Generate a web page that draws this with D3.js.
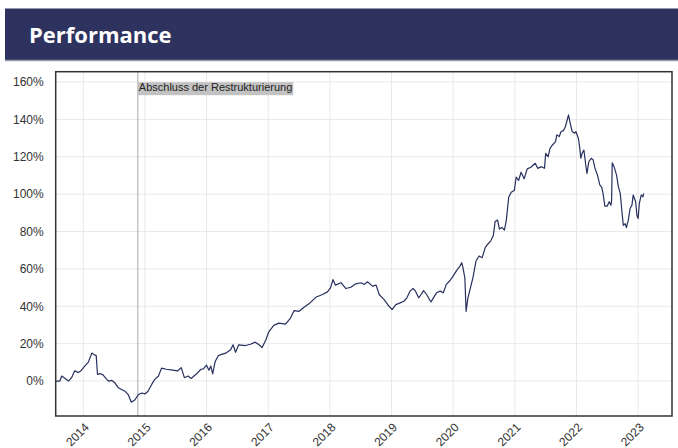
<!DOCTYPE html>
<html>
<head>
<meta charset="utf-8">
<script src="https://cdnjs.cloudflare.com/ajax/libs/d3/7.8.5/d3.min.js"></script>
<style>
  body { margin: 0; background: #fff; }
  svg { display: block; }
</style>
</head>
<body>
<div id="chart"></div>
<script>
// performance in %, [decimal year, value]
var perf2013 = [
  [2013.55, 0.0], [2013.62, 0.0], [2013.65, 2.7], [2013.70, 1.5], [2013.76, 0.0],
  [2013.81, 1.8], [2013.86, 5.5], [2013.92, 4.5], [2013.97, 5.8]
];
var perf2014 = [
  [2014.03, 8.2], [2014.08, 10.0], [2014.14, 15.0], [2014.18, 14.0], [2014.21, 13.6],
  [2014.23, 3.6], [2014.27, 4.0], [2014.32, 3.3], [2014.38, 0.9], [2014.41, 0.0],
  [2014.46, 0.4], [2014.51, -0.9], [2014.57, -3.6], [2014.62, -4.5], [2014.68, -5.5],
  [2014.73, -7.3], [2014.78, -11.3], [2014.84, -10.0], [2014.89, -7.3], [2014.95, -6.4]
];
var perf2015 = [
  [2015.00, -6.9], [2015.05, -5.5], [2015.11, -1.8], [2015.16, 0.9], [2015.22, 2.7],
  [2015.27, 6.9], [2015.35, 6.3], [2015.45, 5.8], [2015.53, 5.4], [2015.59, 7.2],
  [2015.64, 1.8], [2015.70, 2.7], [2015.75, 1.4], [2015.83, 3.6], [2015.91, 6.3],
  [2015.95, 6.5]
];
var perf2016 = [
  [2016.00, 8.5], [2016.04, 5.8], [2016.07, 8.0], [2016.10, 3.8], [2016.14, 10.5],
  [2016.19, 13.5], [2016.22, 14.0], [2016.31, 14.9], [2016.39, 16.7], [2016.43, 19.4],
  [2016.47, 15.4], [2016.52, 19.4], [2016.63, 19.0], [2016.71, 19.7], [2016.79, 20.8],
  [2016.85, 19.4], [2016.90, 17.9], [2016.96, 22.0]
];
var perf2017 = [
  [2017.01, 26.5], [2017.09, 29.8], [2017.17, 31.0], [2017.28, 30.5], [2017.36, 33.7],
  [2017.42, 37.7], [2017.50, 37.3], [2017.58, 39.5], [2017.66, 41.3], [2017.77, 44.8],
  [2017.88, 46.3], [2017.96, 47.7]
];
var perf2018 = [
  [2018.01, 49.9], [2018.05, 54.3], [2018.09, 51.3], [2018.18, 52.6], [2018.26, 49.5],
  [2018.34, 50.2], [2018.42, 52.0], [2018.50, 52.6], [2018.56, 51.7], [2018.61, 53.1],
  [2018.69, 50.8], [2018.75, 51.3], [2018.80, 46.3], [2018.88, 43.6], [2018.96, 40.0]
];
var perf2019 = [
  [2019.01, 38.2], [2019.07, 40.9], [2019.14, 41.8], [2019.20, 42.7], [2019.25, 44.5],
  [2019.30, 48.1], [2019.35, 49.5], [2019.39, 48.1], [2019.44, 44.5], [2019.48, 46.3],
  [2019.52, 48.4], [2019.57, 46.3], [2019.64, 42.3], [2019.68, 44.5], [2019.73, 47.2],
  [2019.79, 48.1], [2019.84, 47.2], [2019.89, 51.7], [2019.95, 53.8]
];
var perf2020 = [
  [2020.00, 56.1], [2020.05, 58.8], [2020.11, 61.5], [2020.14, 63.3], [2020.16, 60.6],
  [2020.19, 55.2], [2020.21, 37.3], [2020.24, 44.5], [2020.28, 49.9], [2020.32, 55.2],
  [2020.37, 64.2], [2020.42, 66.9], [2020.47, 66.0], [2020.52, 71.4], [2020.56, 73.2],
  [2020.61, 75.0], [2020.65, 77.7], [2020.68, 85.4], [2020.72, 86.1], [2020.75, 81.3],
  [2020.79, 82.2], [2020.83, 80.7], [2020.86, 85.7], [2020.90, 98.3], [2020.94, 101.0],
  [2020.99, 101.9]
];
var perf2021 = [
  [2021.02, 109.1], [2021.06, 107.3], [2021.10, 111.7], [2021.15, 108.2], [2021.20, 113.5],
  [2021.26, 114.4], [2021.33, 116.5], [2021.37, 113.8], [2021.43, 114.7], [2021.48, 113.8],
  [2021.50, 121.8], [2021.54, 120.0], [2021.57, 124.5], [2021.61, 126.3], [2021.66, 128.1],
  [2021.68, 131.7], [2021.72, 130.8], [2021.75, 133.5], [2021.79, 134.0], [2021.82, 136.2],
  [2021.85, 139.8], [2021.87, 142.4], [2021.90, 137.6], [2021.93, 133.5], [2021.97, 132.6],
  [2021.99, 133.5]
];
var perf2022 = [
  [2022.03, 129.9], [2022.05, 125.4], [2022.07, 119.2], [2022.09, 121.8], [2022.12, 123.6],
  [2022.15, 115.6], [2022.17, 111.1], [2022.20, 117.4], [2022.24, 119.2], [2022.27, 118.3],
  [2022.30, 113.8], [2022.34, 110.2], [2022.38, 104.8], [2022.41, 103.6], [2022.43, 100.4],
  [2022.46, 93.6], [2022.50, 93.6], [2022.53, 95.9], [2022.56, 94.1], [2022.57, 96.8],
  [2022.58, 116.8], [2022.61, 114.7], [2022.65, 110.2], [2022.68, 103.9], [2022.71, 100.4],
  [2022.74, 89.6], [2022.76, 83.3], [2022.79, 84.2], [2022.81, 82.1], [2022.84, 86.0],
  [2022.87, 92.3], [2022.90, 94.1], [2022.92, 99.5], [2022.96, 95.9], [2022.98, 88.7]
];
var perf2023 = [
  [2023.00, 86.9], [2023.02, 95.0], [2023.05, 99.5], [2023.08, 98.6], [2023.09, 100.4]
];

var yTicks = [0, 20, 40, 60, 80, 100, 120, 140, 160];
var xYears = [2014, 2015, 2016, 2017, 2018, 2019, 2020, 2021, 2022, 2023];
var annotation = { year: 2014.885, label: 'Abschluss der Restrukturierung' };
var title = 'Performance';

var W = 678, H = 448;
var margin = { top: 71.7, right: 6, bottom: 32, left: 55.7 };
var width = W - margin.left - margin.right;
var height = H - margin.top - margin.bottom;

function yearToDate(y) {
  var yr = Math.floor(y);
  var start = new Date(yr, 0, 1), end = new Date(yr + 1, 0, 1);
  return new Date(+start + (y - yr) * (end - start));
}

var data = [].concat(perf2013, perf2014, perf2015, perf2016, perf2017, perf2018,
  perf2019, perf2020, perf2021, perf2022, perf2023).map(function(d) {
  return { date: yearToDate(d[0]), value: d[1] };
});

var svg = d3.select('#chart').append('svg')
  .attr('width', W)
  .attr('height', H);

// header band
svg.append('rect')
  .attr('x', 5).attr('y', 8.5)
  .attr('width', W - 5).attr('height', 52)
  .attr('fill', '#2e325e');
svg.append('line')
  .attr('x1', 5).attr('x2', W)
  .attr('y1', 60.5).attr('y2', 60.5)
  .attr('stroke', '#9a9cae').attr('stroke-width', 1.5);
svg.append('text')
  .attr('x', 29).attr('y', 43)
  .attr('fill', '#fff')
  .style('font-family', '"Open Sans", sans-serif')
  .style('font-weight', 700)
  .style('font-size', '22px')
  .text(title);

var g = svg.append('g')
  .attr('transform', 'translate(' + margin.left + ',' + margin.top + ')');

var x = d3.scaleTime()
  .domain([yearToDate(2013.552), yearToDate(2023.55)])
  .range([0, width]);
var y = d3.scaleLinear()
  .domain([-18.7, 165.5])
  .range([height, 0]);

// grid
g.append('g')
  .selectAll('line.v')
  .data(xYears)
  .enter().append('line')
  .attr('x1', function(d) { return x(new Date(d, 0, 1)); })
  .attr('x2', function(d) { return x(new Date(d, 0, 1)); })
  .attr('y1', 0).attr('y2', height)
  .attr('stroke', '#e8e8e8').attr('stroke-width', 1);
g.append('g')
  .selectAll('line.h')
  .data(yTicks)
  .enter().append('line')
  .attr('x1', 0).attr('x2', width)
  .attr('y1', function(d) { return y(d); })
  .attr('y2', function(d) { return y(d); })
  .attr('stroke', '#e8e8e8').attr('stroke-width', 1);

// y axis labels
var yAxis = d3.axisLeft(y).tickValues(yTicks).tickSize(0).tickPadding(12)
  .tickFormat(function(d) { return d + '%'; });
var yG = g.append('g').call(yAxis);
yG.select('.domain').remove();
yG.selectAll('text')
  .style('font-family', '"Liberation Sans", Arial, sans-serif')
  .style('font-size', '12px')
  .attr('fill', '#333');

// x axis labels
var xAxis = d3.axisBottom(x)
  .tickValues(xYears.map(function(d) { return new Date(d, 0, 1); }))
  .tickSize(0)
  .tickFormat(d3.timeFormat('%Y'));
var xG = g.append('g')
  .attr('transform', 'translate(0,' + height + ')')
  .call(xAxis);
xG.select('.domain').remove();
xG.selectAll('text')
  .style('font-family', '"Liberation Sans", Arial, sans-serif')
  .style('font-size', '12px')
  .attr('fill', '#333')
  .attr('text-anchor', 'end')
  .attr('dy', null)
  .attr('y', 0)
  .attr('transform', 'translate(6,12) rotate(-45)');

// annotation
var ax = x(yearToDate(annotation.year));
g.append('line')
  .attr('x1', ax).attr('x2', ax)
  .attr('y1', 0).attr('y2', height)
  .attr('stroke', '#a8a8a8').attr('stroke-width', 1);
var labelG = g.append('g');
var labelBg = labelG.append('rect').attr('fill', '#c2c2c2');
var labelText = labelG.append('text')
  .attr('x', ax + 1).attr('y', 19.5)
  .style('font-family', '"Liberation Sans", Arial, sans-serif')
  .style('font-size', '11px')
  .attr('fill', '#222')
  .text(annotation.label);
var tw = labelText.node().getComputedTextLength();
labelBg.attr('x', ax).attr('y', 10.5).attr('width', tw + 2).attr('height', 13);

// line
var line = d3.line()
  .x(function(d) { return x(d.date); })
  .y(function(d) { return y(d.value); });
g.append('path')
  .datum(data)
  .attr('fill', 'none')
  .attr('stroke', '#27305e')
  .attr('stroke-width', 1.2)
  .attr('stroke-linejoin', 'round')
  .attr('d', line);

// frame
g.append('rect')
  .attr('x', 0).attr('y', 0)
  .attr('width', width).attr('height', height)
  .attr('fill', 'none')
  .attr('stroke', '#333')
  .attr('stroke-width', 1.5);
</script>
</body>
</html>
